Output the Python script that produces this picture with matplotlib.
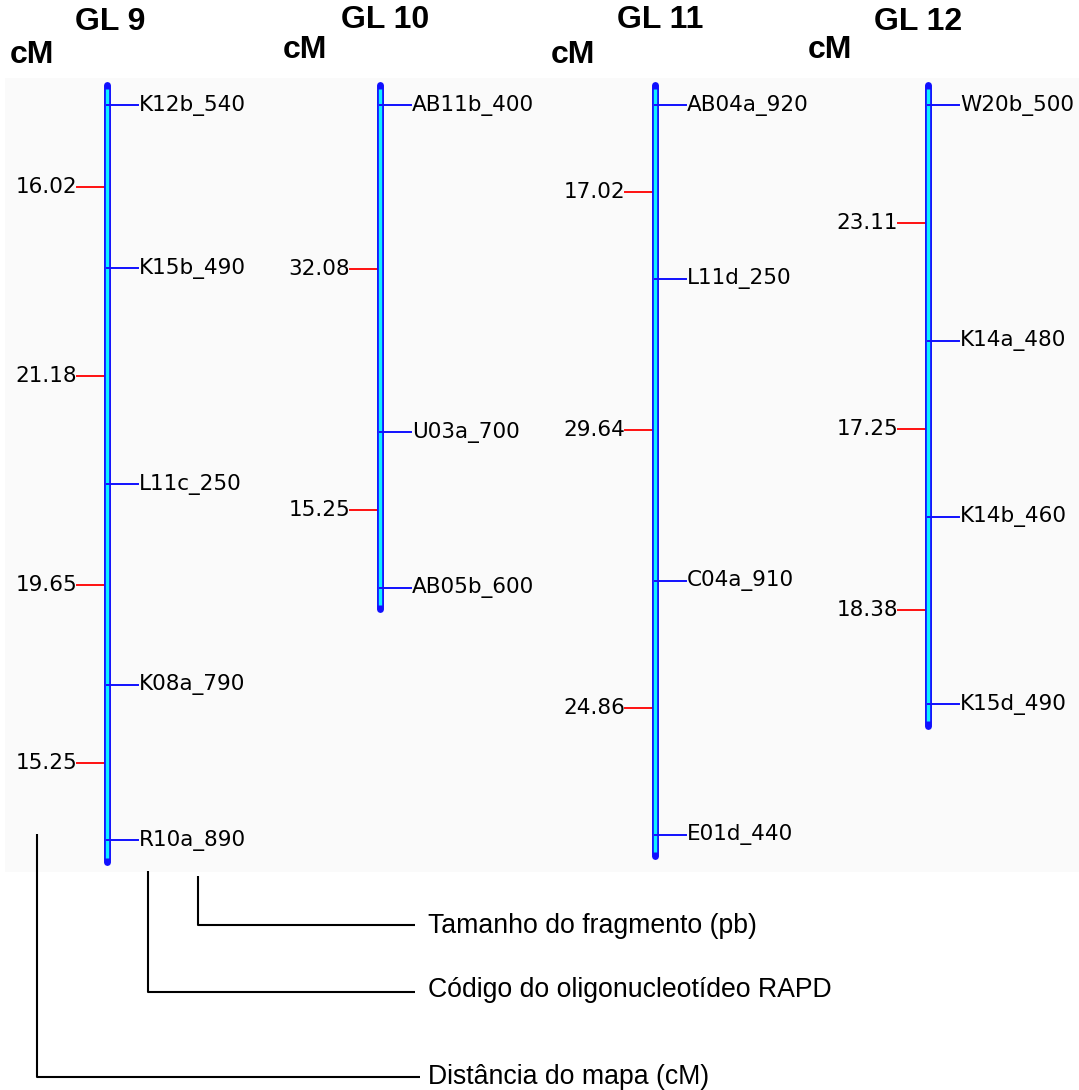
import matplotlib
matplotlib.use("Agg")
import matplotlib.pyplot as plt
import numpy as np

# ---------------- data ----------------
groups = ["GL 9", "GL 10", "GL 11", "GL 12"]
markers_gl9 = ["K12b_540", "K15b_490", "L11c_250", "K08a_790", "R10a_890"]
dist_gl9 = [16.02, 21.18, 19.65, 15.25]
markers_gl10 = ["AB11b_400", "U03a_700", "AB05b_600"]
dist_gl10 = [32.08, 15.25]
markers_gl11 = ["AB04a_920", "L11d_250", "C04a_910", "E01d_440"]
dist_gl11 = [17.02, 29.64, 24.86]
markers_gl12 = ["W20b_500", "K14a_480", "K14b_460", "K15d_490"]
dist_gl12 = [23.11, 17.25, 18.38]

legend_texts = ["Tamanho do fragmento (pb)",
                "Código do oligonucleotídeo RAPD",
                "Distância do mapa (cM)"]

all_markers = [markers_gl9, markers_gl10, markers_gl11, markers_gl12]
all_dists = [dist_gl9, dist_gl10, dist_gl11, dist_gl12]

# ---------------- layout ----------------
W, H = 1079, 1090
fig = plt.figure(figsize=(W / 100, H / 100), dpi=100)
fig.patch.set_facecolor("white")

px_per_cm = 10.2
y_first_px = 105
ax = fig.add_axes([0, 0, 1, 1])
ax.set_xlim(0, W)
ax.set_ylim((H - y_first_px) / px_per_cm, -y_first_px / px_per_cm)
ax.axis("off")

ov = fig.add_axes([0, 0, 1, 1], zorder=-1)
ov.set_xlim(0, W)
ov.set_ylim(H, 0)
ov.axis("off")
ov.add_patch(plt.Rectangle((5, 78), W - 5, 794, facecolor="#fafafa",
                           edgecolor="none"))

top = fig.add_axes([0, 0, 1, 1], zorder=5)
top.set_xlim(0, W)
top.set_ylim(H, 0)
top.axis("off")
top.patch.set_alpha(0)

bar_x = [107, 380, 655, 928]
title_pos = [(110, 22), (385, 20), (660, 20), (918, 22)]
cm_pos = [(32, 55), (305, 50), (573, 55), (830, 50)]

lab_font = "DejaVu Sans"
lab_size = 15.5
tick_len = 31

for gi in range(4):
    x = bar_x[gi]
    mk = all_markers[gi]
    d = np.array(all_dists[gi])
    pos = np.concatenate([[0.0], np.cumsum(d)])
    mids = (pos[:-1] + pos[1:]) / 2
    # chromosome bar
    ax.plot([x, x], [pos[0] - 2.0, pos[-1] + 2.1], color="#1010ff", lw=5.0,
            solid_capstyle="round", zorder=3)
    ax.plot([x, x], [pos[0] - 1.6, pos[-1] + 1.7], color="#10f0ff", lw=2.4,
            solid_capstyle="butt", zorder=4)
    # markers
    for name, p in zip(mk, pos):
        ax.plot([x, x + tick_len], [p, p], color="#1010ff", lw=1.4, zorder=5)
        ax.text(x + tick_len + 1, p, name, ha="left", va="center",
                fontsize=lab_size, family=lab_font, color="black")
    # distances
    for dv, m in zip(d, mids):
        ax.plot([x - 30, x], [m, m], color="#ff1010", lw=1.4, zorder=2)
        ax.text(x - 30, m, f"{dv:.2f}", ha="right", va="center",
                fontsize=lab_size, family=lab_font, color="black")
    # titles
    top.text(title_pos[gi][0], title_pos[gi][1], groups[gi], ha="center",
             va="center", fontsize=23, fontweight="bold",
             family="Liberation Sans")
    top.text(cm_pos[gi][0], cm_pos[gi][1], "cM", ha="center", va="center",
             fontsize=23, fontweight="bold", family="Liberation Sans")

# ---------------- explanatory legend ----------------
lk = dict(color="black", lw=1.5, solid_capstyle="butt")
top.plot([198, 198, 415], [876, 925, 925], **lk)
top.plot([148, 148, 415], [871, 992, 992], **lk)
top.plot([37, 37, 420], [834, 1077, 1077], **lk)
for txt, yy in zip(legend_texts, [926, 990, 1077]):
    top.text(428, yy, txt, ha="left", va="center", fontsize=19.2,
             family="Liberation Sans")

fig.savefig("out.png", dpi=100)
